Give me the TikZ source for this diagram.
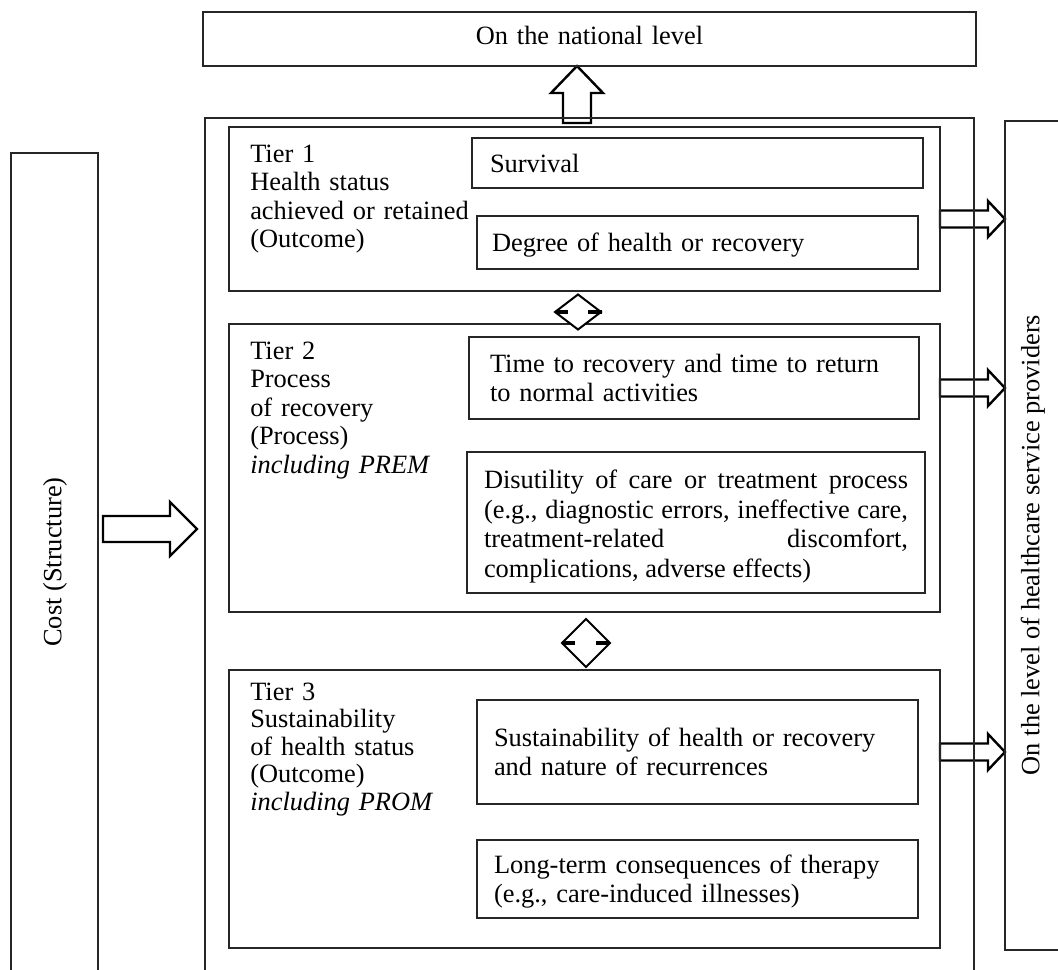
\documentclass[tikz,border=0pt]{standalone}
\usepackage{fontspec}
\setmainfont{Liberation Serif}
\usetikzlibrary{calc}
\pgfdeclarelayer{bg}
\pgfsetlayers{bg,main}
\newcommand\mainfs{\fontsize{19.8}{21.4}\selectfont}
\newcommand\tstr{\rule{0pt}{\dimexpr 0.7\baselineskip+5pt\relax}}
\tikzset{
  box/.style={draw=black!85, line width=0.9pt, outer sep=0pt, font=\mainfs, align=left},
  txt/.style={inner sep=0pt, font=\mainfs, align=left},
  blk/.style={draw=black, line width=1.8pt, fill=white, line join=miter},
  dia/.style={draw=black, line width=1.5pt, fill=white, line join=miter},
  stub/.style={draw=black, line width=2.4pt},
}
% name x1 y1 x2 y2 pad style text
\newcommand\pxbox[8]{%
  \pgfmathsetlengthmacro\bw{(#4-(#2))*0.75pt}%
  \pgfmathsetlengthmacro\bh{(#5-(#3))*0.75pt}%
  \pgfmathsetlengthmacro\tw{(#4-(#2)-2*#6)*0.75pt}%
  \pgfmathsetlengthmacro\ps{#6*0.75pt}%
  \node[box,minimum width=\bw,minimum height=\bh,text width=\tw,inner xsep=\ps,inner ysep=0pt,#7] (#1) at ({(#2+#4)/2},{(#3+#5)/2}) {#8};}
% start, tip, half body, half head, head length
\newcommand\rblock[5]{%
  \draw[blk] ($(#1)+(0,-#3)$) -- ($(#2)+(-#5,-#3)$) -- ($(#2)+(-#5,-#4)$) -- (#2)
    -- ($(#2)+(-#5,#4)$) -- ($(#2)+(-#5,#3)$) -- ($(#1)+(0,#3)$) -- cycle;}
% diamond: centre, half width, half height, stub offsets
\newcommand\dmd[7]{%
  \draw[dia] ($(#1)+(-#2,0)$) -- ($(#1)+(0,-#3)$) -- ($(#1)+(#2,0)$) -- ($(#1)+(0,#3)$) -- cycle;
  \draw[stub] ($(#1)+(-#4,0)$) -- ($(#1)+(-#5,0)$);
  \draw[stub] ($(#1)+(#6,0)$) -- ($(#1)+(#7,0)$);}
\begin{document}
\begin{tikzpicture}[x=0.75pt,y=-0.75pt]
\useasboundingbox (0,0) rectangle (1058,970);
\clip (0,0) rectangle (1058,970);

\pxbox{nat}{203}{12}{976}{66}{0}{align=center}{\strut On the national level\strut}
\pxbox{outer}{205}{118}{974}{990}{0}{}{}
\pxbox{cost}{11}{153}{98}{990}{0}{}{}
\pxbox{prov}{1005}{121}{1080}{950}{0}{}{}
\pxbox{t1}{229}{127}{940}{291}{0}{}{}
\pxbox{t2}{229}{324}{940}{612}{0}{}{}
\pxbox{t3}{229}{670}{940}{948}{0}{}{}

\pxbox{surv}{472}{138}{923}{188}{18}{}{\tstr Survival\strut}
\pxbox{deg}{477}{216}{918}{269}{15}{}{\tstr Degree of health or recovery\strut}
\pxbox{time}{469}{337}{919}{419}{21}{}{\tstr Time to recovery and time to return\\to normal activities\strut}
\pxbox{dis}{467}{452}{925}{593}{17}{align=justify,font=\fontsize{19.8}{22.2}\selectfont}{\rule{0pt}{\dimexpr 0.7\baselineskip+7pt\relax}Disutility of care or treatment process\linebreak (e.g., diagnostic errors, ineffective care,\linebreak treatment-related discomfort,\linebreak complications, adverse effects)\strut}
\pxbox{sust}{477}{700}{918}{804}{17}{}{\tstr Sustainability of health or recovery\\and nature of recurrences\strut}
\pxbox{long}{477}{840}{918}{918}{17}{}{\tstr Long-term consequences of therapy\\(e.g., care-induced illnesses)\strut}

\node[txt, anchor=north west, text width=172pt] (l1) at (250,142)
  {\strut Tier 1\\Health status\\achieved or retained\\(Outcome)};
\node[txt, anchor=north west, text width=172pt] (l2) at (250,339)
  {\strut Tier 2\\Process\\of recovery\\(Process)\\\textit{including PREM}};
\node[txt, anchor=north west, text width=172pt, font=\fontsize{19.8}{20.6}\selectfont] (l3) at (250,681)
  {\strut Tier 3\\Sustainability\\of health status\\(Outcome)\\\textit{including PROM}};

\node[txt, rotate=90] (costl) at (55,562) {Cost (Structure)};
\node[txt, rotate=90] (provl) at (1033,545) {On the level of healthcare service providers};

\begin{pgfonlayer}{bg}
  \coordinate (xu) at (577,0);
  \coordinate (ut) at (nat.south -| xu);
  \coordinate (ub) at ($(outer.north -| xu)+(0,5)$);
  \draw[blk] ($(ub)+(-14,0)$) -- ($(ut)+(-14,27)$) -- ($(ut)+(-26,27)$) -- (ut)
    -- ($(ut)+(26,27)$) -- ($(ut)+(14,27)$) -- ($(ub)+(14,0)$) -- cycle;
  \coordinate (ly) at (0,529);
  \coordinate (ls) at ($(cost.east |- ly)+(5,0)$);
  \coordinate (lt) at ($(outer.west |- ly)+(-8,0)$);
  \rblock{ls}{lt}{13}{27}{27}
  \coordinate (r1y) at (0,219);
  \coordinate (r1s) at (t1.east |- r1y);
  \coordinate (r1t) at (prov.west |- r1y);
  \rblock{r1s}{r1t}{8.5}{18}{17}
  \coordinate (r2y) at (0,388);
  \coordinate (r2s) at (t2.east |- r2y);
  \coordinate (r2t) at (prov.west |- r2y);
  \rblock{r2s}{r2t}{8.5}{18}{17}
  \coordinate (r3y) at (0,752);
  \coordinate (r3s) at (t3.east |- r3y);
  \coordinate (r3t) at (prov.west |- r3y);
  \rblock{r3s}{r3t}{8.5}{18}{17}
\end{pgfonlayer}

\coordinate (d1) at (578,312);
\dmd{d1}{23}{17.5}{21}{10}{10}{24}
\coordinate (d2) at (586,643);
\dmd{d2}{24}{24}{24}{11}{10}{23}
\end{tikzpicture}
\end{document}
